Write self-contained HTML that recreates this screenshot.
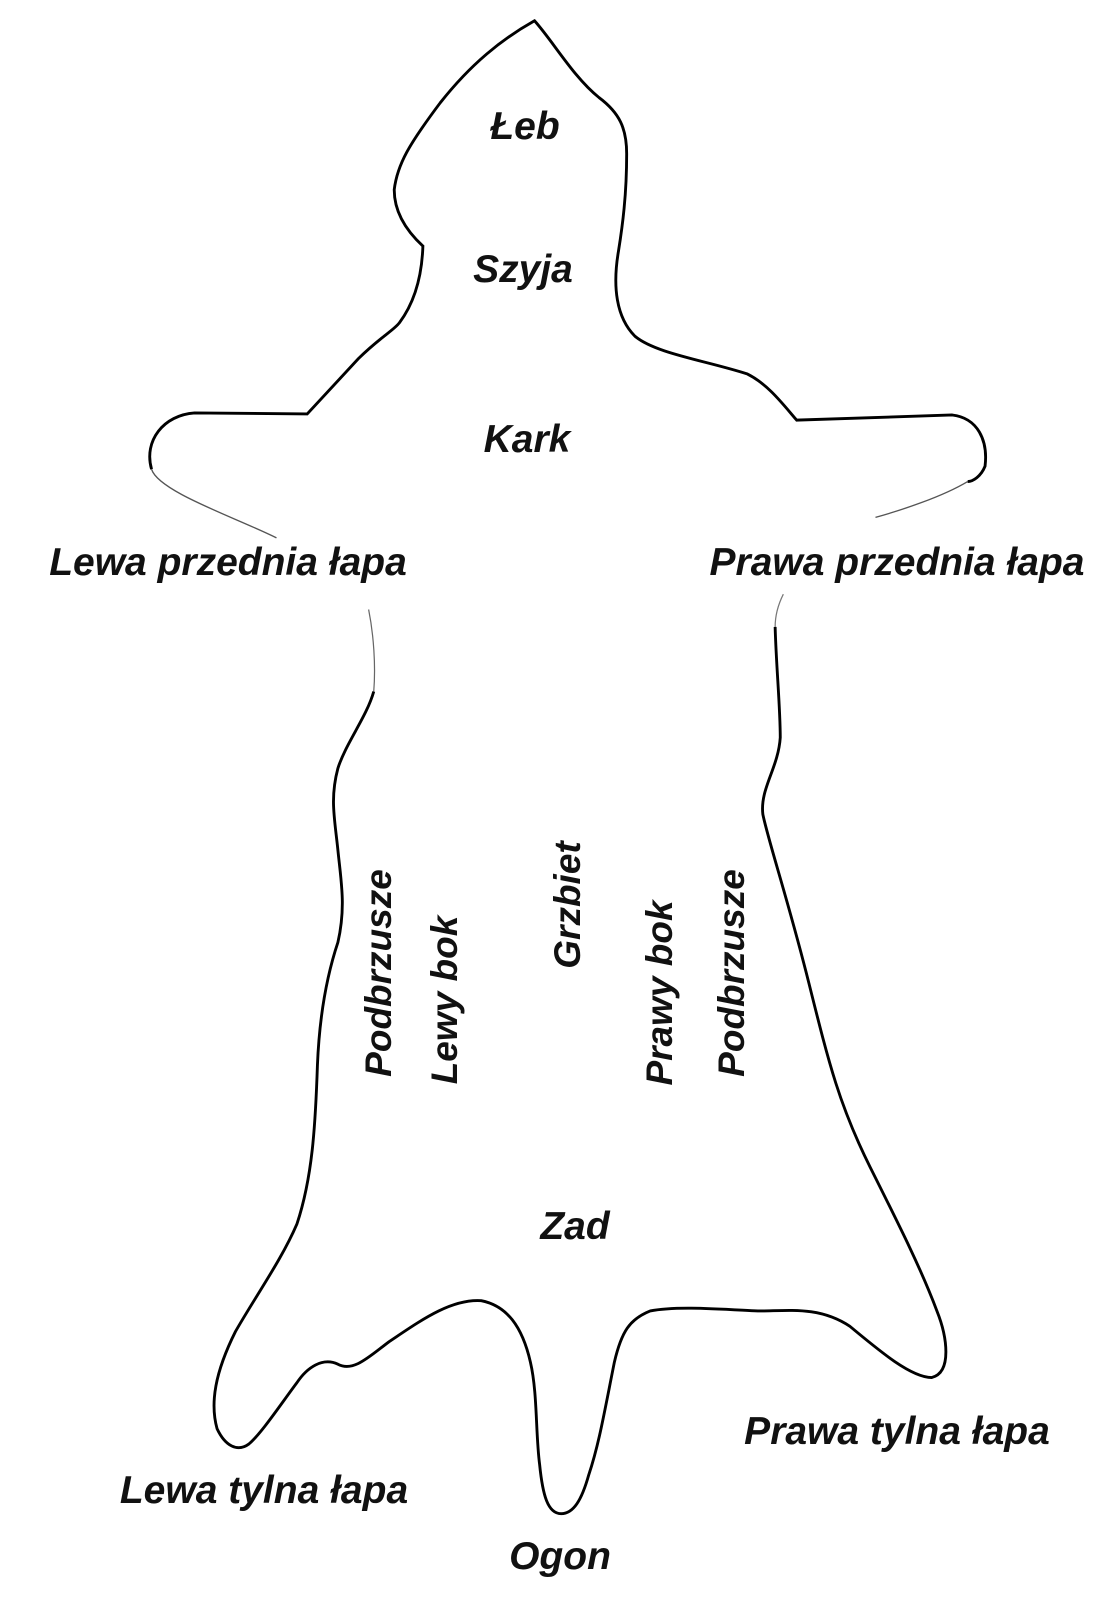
<!DOCTYPE html>
<html><head><meta charset="utf-8"><style>
html,body{margin:0;padding:0;background:#fff}
body{width:1111px;height:1600px;position:relative;overflow:hidden}
.l{position:absolute;font-family:"Liberation Sans",sans-serif;font-style:italic;font-weight:bold;font-size:39px;color:#111;white-space:nowrap;transform:translate(-50%,-50%)}
.v{font-size:37px;transform:translate(-50%,-50%) rotate(-90deg)}
svg{position:absolute;left:0;top:0}
</style></head><body>
<svg width="1111" height="1600" viewBox="0 0 1085 1562">
<path d="M148,458 C140,430 160,405 190,403 L300,404 L350,350 C370,330 385,322 390,315 C405,295 412,270 413,240 C400,228 385,210 385,185 C388,160 400,140 430,100 C460,62 490,38 522,20 C540,40 560,75 585,95 C605,110 612,125 612,150 C612,190 608,220 604,245 C598,280 602,310 620,328 C640,345 690,352 730,365 C750,375 765,395 778,410 L930,405 C955,408 965,430 962,455 C958,465 950,470 945,470" fill="none" stroke="#000" stroke-width="2.8"/>
<path d="M148,458 C155,480 230,505 270,525" fill="none" stroke="#555" stroke-width="1.3"/>
<path d="M945,470 C920,485 880,498 855,505" fill="none" stroke="#555" stroke-width="1.3"/>
<path d="M765,580 C760,590 757,600 757,612" fill="none" stroke="#777" stroke-width="1.2"/>
<path d="M360,595 C365,620 367,650 365,675" fill="none" stroke="#666" stroke-width="1.2"/>
<path d="M757,612 C758,650 762,690 762,720 C760,750 742,770 745,795 C750,820 770,880 790,960 C810,1040 820,1080 850,1140 C880,1200 900,1240 915,1280 C925,1305 930,1340 910,1345 C890,1345 860,1320 830,1295 C800,1275 770,1280 740,1280 C700,1278 660,1275 635,1280 C615,1288 607,1300 600,1330 C590,1380 585,1410 575,1440 C568,1465 560,1478 548,1478 C535,1478 530,1460 527,1430 C523,1400 525,1360 518,1330 C510,1295 495,1275 470,1270 C440,1268 410,1290 380,1310 C360,1325 345,1340 330,1332 C315,1325 300,1335 290,1350 C275,1370 255,1400 243,1410 C232,1418 220,1412 212,1395 C205,1370 210,1340 230,1300 C250,1265 275,1230 290,1195 C305,1150 308,1100 310,1040 C312,990 320,950 330,920 C338,885 333,860 330,830 C327,800 322,780 330,750 C338,725 358,700 365,675" fill="none" stroke="#000" stroke-width="2.8"/>
</svg>
<div class="l" style="left:525px;top:127px">Łeb</div>
<div class="l" style="left:523px;top:270px">Szyja</div>
<div class="l" style="left:527px;top:440px">Kark</div>
<div class="l" style="left:228px;top:563px">Lewa przednia łapa</div>
<div class="l" style="left:897px;top:563px">Prawa przednia łapa</div>
<div class="l v" style="left:379px;top:973px">Podbrzusze</div>
<div class="l v" style="left:445px;top:1000px">Lewy bok</div>
<div class="l v" style="left:568px;top:905px">Grzbiet</div>
<div class="l v" style="left:660px;top:993px">Prawy bok</div>
<div class="l v" style="left:732px;top:973px">Podbrzusze</div>
<div class="l" style="left:575px;top:1227px">Zad</div>
<div class="l" style="left:897px;top:1432px">Prawa tylna łapa</div>
<div class="l" style="left:264px;top:1491px">Lewa tylna łapa</div>
<div class="l" style="left:560px;top:1557px">Ogon</div>
</body></html>
